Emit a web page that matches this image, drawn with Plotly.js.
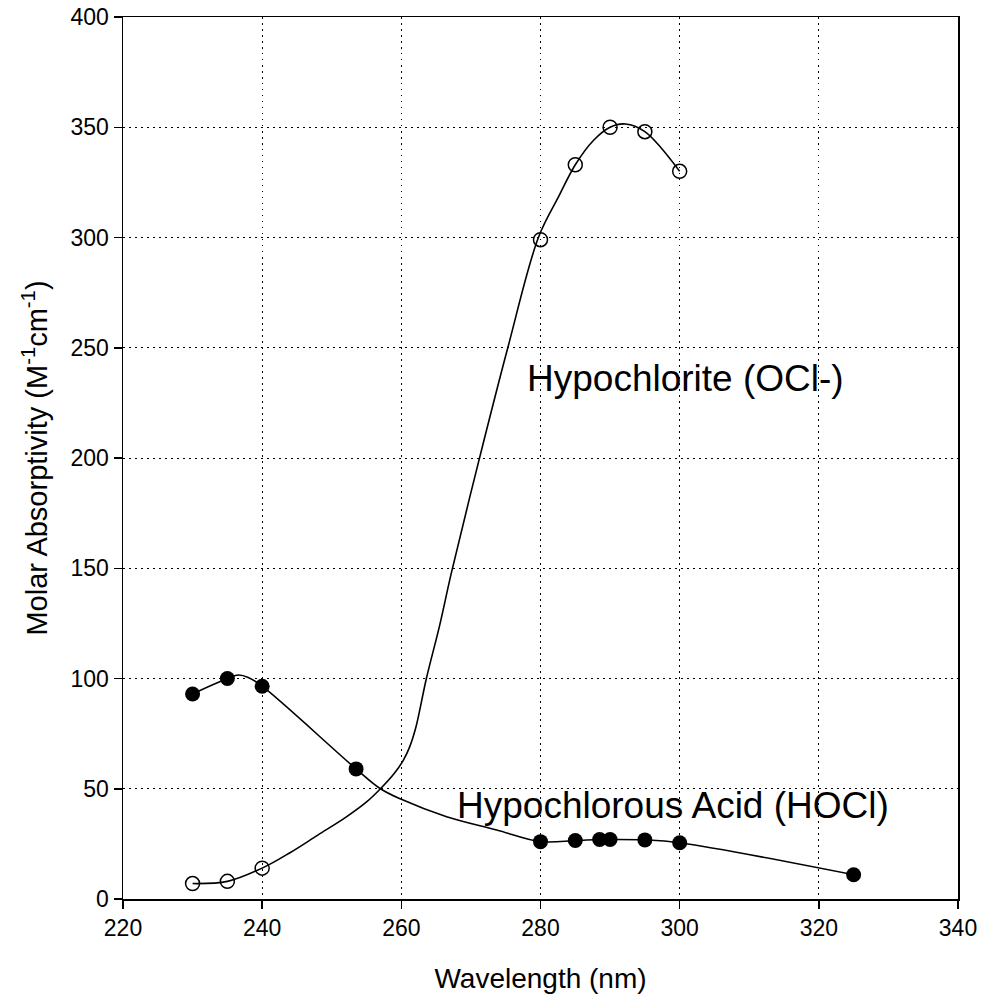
<!DOCTYPE html>
<html>
<head>
<meta charset="utf-8">
<script src="https://cdn.plot.ly/plotly-3.0.1.min.js"></script>
<style>html,body{margin:0;padding:0;background:#fff;}</style>
</head>
<body>
<div id="chart" style="width:982px;height:1000px;"></div>
<script>
// Measured points: Hypochlorite (OCl-), open circles
const oclWavelength = [230, 235, 240, 280, 285, 290, 295, 300];
const oclAbsorptivity = [7, 8, 14, 299, 333, 350, 348, 330];

// Measured points: Hypochlorous Acid (HOCl), filled circles
const hoclWavelength = [230, 235, 240, 253.5, 280, 285, 288.5, 290, 295, 300, 325];
const hoclAbsorptivity = [93, 100, 96.5, 59, 26, 26.5, 27, 27, 26.8, 25.5, 11];

// Drawn curves, values
const oclCurveX = [230, 235, 240, 244, 248, 252, 255, 257, 259, 260.3, 261.2, 262.1, 263.6, 265.5, 267.2, 271, 275.3, 279.7, 282.6, 285, 287.6, 290, 292.2, 295, 300];
const oclCurveY = [7, 8, 14, 21, 29, 37, 44, 50, 57, 63, 69, 78, 100, 124, 148, 197, 250, 300, 318.5, 333, 344, 350, 351.5, 348, 330];

const hoclCurveX = [230, 235, 236.6, 238, 240, 253.5, 257, 260, 266.5, 273.7, 280, 285, 288.5, 290, 295, 300, 325];
const hoclCurveY = [93, 100, 101.6, 100.5, 96.5, 59, 50, 45.2, 37.3, 31.3, 26, 26.5, 27, 27, 26.8, 25.5, 11];

const xTicks = [220, 240, 260, 280, 300, 320, 340];
const yTicks = [0, 50, 100, 150, 200, 250, 300, 350, 400];

const labelOCl = "Hypochlorite (OCl-)";
const labelHOCl = "Hypochlorous Acid (HOCl)";

const FONT = "Liberation Sans, Arial, Helvetica, sans-serif";

const traces = [
  {x: oclCurveX, y: oclCurveY, mode: 'lines', line: {color: '#000', width: 1.6, shape: 'spline', smoothing: 1}, hoverinfo: 'skip', showlegend: false},
  {x: hoclCurveX, y: hoclCurveY, mode: 'lines', line: {color: '#000', width: 1.6, shape: 'spline', smoothing: 1}, hoverinfo: 'skip', showlegend: false},
  {x: oclWavelength, y: oclAbsorptivity, mode: 'markers', name: labelOCl,
   marker: {symbol: 'circle-open', size: 14, color: '#000', line: {color: '#000', width: 1.5}}, showlegend: false},
  {x: hoclWavelength, y: hoclAbsorptivity, mode: 'markers', name: labelHOCl,
   marker: {symbol: 'circle', size: 15, color: '#000', line: {width: 0}}, showlegend: false}
];

const axisCommon = {
  showline: true, linecolor: '#000', linewidth: 1.5, mirror: true,
  ticks: 'outside', ticklen: 8, tickwidth: 1.5, tickcolor: '#000',
  showgrid: true, gridcolor: '#000', gridwidth: 1, griddash: '1.5px,4.5px',
  zeroline: false, tickfont: {family: FONT, size: 23, color: '#000'}
};

const layout = {
  width: 982, height: 1000,
  margin: {l: 123, r: 24, t: 17, b: 101},
  paper_bgcolor: '#fff', plot_bgcolor: '#fff',
  font: {family: FONT, color: '#000'},
  showlegend: false,
  xaxis: Object.assign({}, axisCommon, {
    range: [220, 340], tickvals: xTicks, ticktext: xTicks.map(String),
    title: {text: 'Wavelength (nm)', font: {family: FONT, size: 28, color: '#000'}, standoff: 28}
  }),
  yaxis: Object.assign({}, axisCommon, {
    range: [0, 400], tickvals: yTicks, ticktext: yTicks.map(String),
    title: {text: 'Molar Absorptivity (M<sup>-1</sup>cm<sup>-1</sup>)', font: {family: FONT, size: 29, color: '#000'}, standoff: 14}
  }),
  annotations: [
    {x: 277.8, y: 236, xref: 'x', yref: 'y', text: labelOCl, showarrow: false, xanchor: 'left', yanchor: 'middle',
     font: {family: FONT, size: 37, color: '#000'}},
    {x: 267.7, y: 42.5, xref: 'x', yref: 'y', text: labelHOCl, showarrow: false, xanchor: 'left', yanchor: 'middle',
     font: {family: FONT, size: 37, color: '#000'}}
  ]
};

Plotly.newPlot('chart', traces, layout, {displayModeBar: false, staticPlot: true});
</script>
</body>
</html>
